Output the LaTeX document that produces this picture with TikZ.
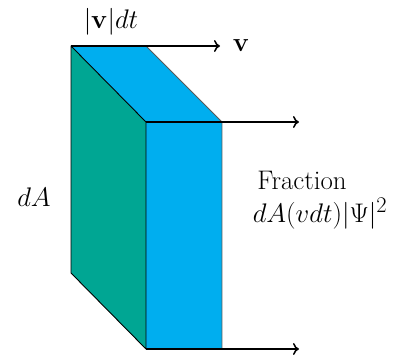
\documentclass[tikz,border=0pt]{standalone}
\usepackage{amsmath,amssymb}
\usepackage{xcolor}
\usetikzlibrary{arrows.meta}
\definecolor{slabblue}{RGB}{0,174,239}
\definecolor{slabgreen}{RGB}{0,166,147}
\tikzset{flowarrow/.style={-{To[length=6pt,width=12pt]},line width=1.5pt},
  slabline/.style={line width=0.9pt},
  bigtext/.style={font=\Huge,scale=1.08}}
\begin{document}
\begin{tikzpicture}[x=1pt,y=-1pt,line join=round]
            \useasboundingbox (0,0) rectangle (395,356);
            \coordinate (a) at (71,46);
            \coordinate (b) at (146,46);
            \coordinate (c) at (222,122);
            \coordinate (d) at (146,122);
            \coordinate (e) at (71,273);
            \coordinate (f) at (146,349);
            \coordinate (g) at (222,349);
            \coordinate (vtip) at (220,46);
            \coordinate (mtip) at (299,122);
            \coordinate (btip) at (299,349);
            \fill[slabgreen] (a) -- (d) -- (f) -- (e) -- cycle;
            \fill[slabblue] (a) -- (b) -- (c) -- (d) -- cycle;
            \fill[slabblue] (d) -- (c) -- (g) -- (f) -- cycle;
            \draw[slabline] (a) -- (d) -- (f) -- (e) -- cycle;
            \draw[slabline,black!65] (b) -- (c) -- (g);
            \draw[flowarrow] (a) -- (vtip);
            \draw[flowarrow] (d) -- (mtip);
            \draw[flowarrow] (f) -- (btip);
            \node[bigtext] at (111,22) (width) {$|\mathbf{v}|dt$};
            \node[bigtext] at (241,46) (vel) {$\mathbf{v}$};
            \node[bigtext] at (34,197) (area) {$dA$};
            \node[bigtext] at (302,180) (frac) {Fraction};
            \node[bigtext] at (320,214) (prob) {$dA(vdt)|\Psi|^2$};
          \end{tikzpicture}
\end{document}
